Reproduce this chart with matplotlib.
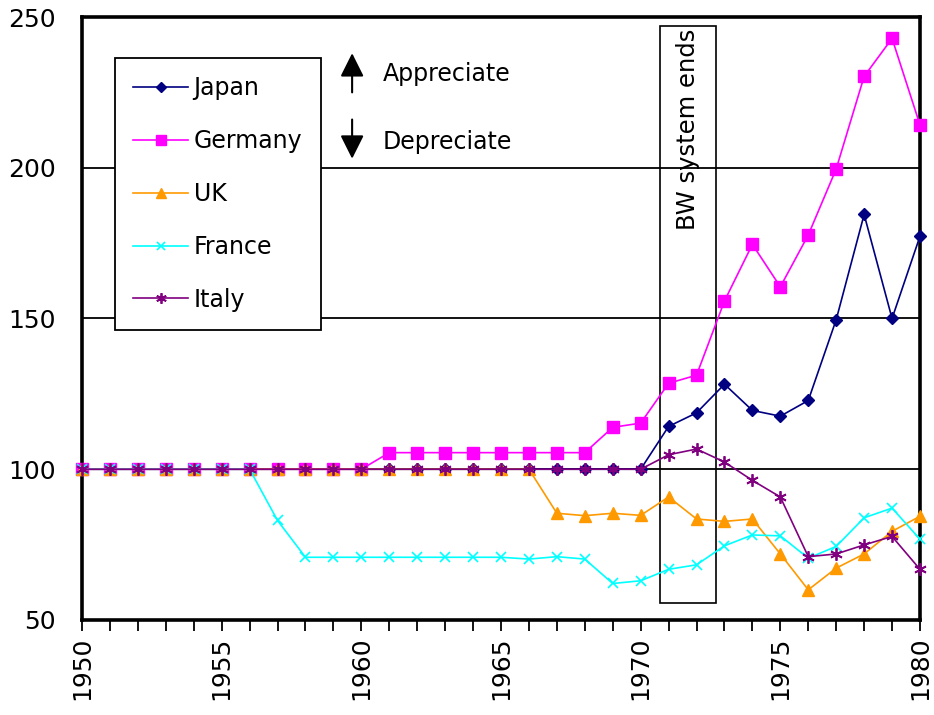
import matplotlib
matplotlib.use("Agg")
import matplotlib.pyplot as plt
from matplotlib.patches import Rectangle

years = list(range(1950, 1981))

japan = [100] * 21 + [114.2, 118.7, 128.2, 119.5, 117.6, 122.8, 149.6, 184.5, 150.0, 177.3]
germany = [100] * 11 + [105.5] * 8 + [113.9, 115.3, 128.5, 131.2, 155.8, 174.6,
                                       160.5, 177.7, 199.6, 230.3, 242.9, 214.2]
uk = [100] * 17 + [85.4, 84.6, 85.4, 84.7, 90.8, 83.5, 82.7, 83.5, 71.9, 60.0,
                   67.2, 71.9, 79.4, 84.4]
france = [100] * 7 + [83.0] + [70.8] * 8 + [70.2, 71.0, 70.2, 62.1, 63.0, 66.8,
                                          68.3, 74.6, 78.2, 77.9, 70.5, 74.4,
                                          83.9, 87.1, 76.8]
italy = [100] * 21 + [104.8, 106.7, 102.4, 96.3, 90.8, 71.0, 71.9, 74.9, 77.7, 66.8]

series_names = ["Japan", "Germany", "UK", "France", "Italy"]
y_ticks = [50, 100, 150, 200, 250]
x_label_years = [1950, 1955, 1960, 1965, 1970, 1975, 1980]

plt.rcParams["font.family"] = ["DejaVu Sans"]

fig = plt.figure(figsize=(9.34, 7.15), dpi=100)
ax = fig.add_axes([0.0878, 0.1329, 0.8972, 0.8433])

styles = [
    dict(color="#000080", marker="D", markersize=6.5),
    dict(color="#FF00FF", marker="s", markersize=8.5),
    dict(color="#FF9900", marker="^", markersize=9),
    dict(color="#00FFFF", marker="x", markersize=7, markeredgewidth=1.2),
    dict(color="#800080", marker=(6, 2, 0), markersize=9, markeredgewidth=1.3),
]
for name, vals, st in zip(series_names, [japan, germany, uk, france, italy], styles):
    ax.plot(years, vals, label=name, linewidth=1.2, clip_on=False, zorder=4, **st)

ax.set_xlim(1950, 1980)
ax.set_ylim(50, 250)

# horizontal reference lines
for v in [100, 150, 200]:
    ax.axhline(v, color="black", linewidth=1.3, zorder=1)

for sp in ax.spines.values():
    sp.set_linewidth(2.6)
    sp.set_color("black")

ax.set_yticks(y_ticks)
ax.set_yticklabels([str(v) for v in y_ticks], fontsize=18)
ax.tick_params(axis="y", length=0, pad=19)

ax.set_xticks(years, minor=True)
ax.set_xticks(x_label_years)
ax.set_xticklabels([str(v) for v in x_label_years], rotation=90, fontsize=18)
ax.tick_params(axis="x", which="both", direction="out", length=8, width=1.3, pad=4)

# Bretton Woods marker box
ax.add_patch(Rectangle((1970.7, 55.5), 2.0, 191.5, fill=False, edgecolor="black",
                       linewidth=1.2, zorder=2))
ax.text(1971.7, 246, "BW system ends", rotation=90, ha="center", va="top",
        fontsize=17.5, zorder=3)

# appreciation / depreciation arrows
ax.annotate("", xy=(1959.67, 238), xytext=(1959.67, 225),
            arrowprops=dict(arrowstyle="-|>", color="black", lw=1.5,
                            mutation_scale=36, shrinkA=0, shrinkB=0))
ax.annotate("", xy=(1959.67, 203), xytext=(1959.67, 216),
            arrowprops=dict(arrowstyle="-|>", color="black", lw=1.5,
                            mutation_scale=36, shrinkA=0, shrinkB=0))
ax.text(1960.78, 231, "Appreciate", fontsize=17, va="center", ha="left")
ax.text(1960.78, 208.6, "Depreciate", fontsize=17, va="center", ha="left")

leg = ax.legend(loc="upper left", bbox_to_anchor=(0.0394, 0.932), fontsize=17,
                frameon=True, fancybox=False, edgecolor="black", framealpha=1,
                handlelength=2.3, labelspacing=1.22, borderpad=0.78,
                handletextpad=0.25, borderaxespad=0, markerscale=0.85)
leg.get_frame().set_linewidth(1.3)
leg.set_zorder(5)

fig.savefig("out.png", dpi=100)
